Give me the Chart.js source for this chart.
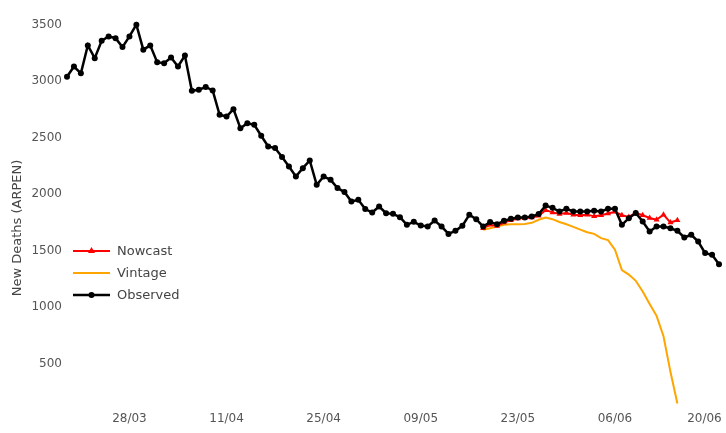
<!DOCTYPE html>
<html>
<head>
<meta charset="utf-8">
<script src="https://cdn.jsdelivr.net/npm/chart.js@4.4.1/dist/chart.umd.min.js"></script>
<style>
  html, body { margin: 0; padding: 0; background: #ffffff; }
  #wrap { width: 726px; height: 433px; }
</style>
</head>
<body>
<div id="wrap"><canvas id="chart" width="726" height="433"></canvas></div>
<script>
// Daily categories, 19/03 to 21/06
const monthSpans = [["03", 19, 31], ["04", 1, 30], ["05", 1, 31], ["06", 1, 21]];
const dates = [];
for (const [m, from, to] of monthSpans) {
  for (let d = from; d <= to; d++) dates.push(String(d).padStart(2, "0") + "/" + m);
}

// Dates that carry a label on the x axis
const tickLabels = ["28/03", "11/04", "25/04", "09/05", "23/05", "06/06", "20/06"];
// Values labelled on the y axis
const yTicks = [500, 1000, 1500, 2000, 2500, 3000, 3500];

// Observed daily deaths (ARPEN)
const observed = [
  3040, 3130, 3070, 3317, 3204, 3358, 3396, 3381, 3302, 3396,
  3500, 3279, 3317, 3168, 3159, 3209, 3130, 3227, 2916, 2925,
  2949, 2919, 2703, 2688, 2753, 2585, 2629, 2615, 2518, 2423,
  2409, 2329, 2246, 2158, 2231, 2299, 2084, 2158, 2128, 2055,
  2020, 1936, 1951, 1869, 1839, 1892, 1833, 1827, 1798, 1730,
  1757, 1724, 1715, 1768, 1715, 1650, 1677, 1721, 1819, 1780,
  1715, 1754, 1736, 1765, 1783, 1795, 1795, 1804, 1825, 1900,
  1880, 1848, 1872, 1848, 1848, 1848, 1854, 1848, 1872, 1872,
  1730, 1789, 1834, 1760, 1671, 1715, 1715, 1700, 1677, 1618,
  1642, 1582, 1480, 1465, 1382
];

// Nowcast and vintage both run from 18/05 to 15/06
const estimateStart = "18/05";
const nowcast = [
  1700, 1730, 1720, 1750, 1770, 1785, 1790, 1795, 1810, 1860,
  1840, 1825, 1835, 1820, 1815, 1820, 1805, 1815, 1830, 1845,
  1815, 1800, 1835, 1815, 1790, 1775, 1820, 1750, 1770
];
const vintage = [
  1686, 1700, 1715, 1730, 1736, 1736, 1738, 1748, 1775, 1795,
  1780, 1755, 1735, 1712, 1688, 1665, 1650, 1612, 1595, 1510,
  1330, 1290, 1235, 1140, 1030, 925, 745, 430, 150
];

// Align a partial series with the full date axis
function alignToDates(values, startDate) {
  const offset = dates.indexOf(startDate);
  return dates.map((_, i) => {
    const k = i - offset;
    return k >= 0 && k < values.length ? values[k] : null;
  });
}

const FONT = "'DejaVu Sans', Verdana, sans-serif";
const TEXT = "#555555";

// Legend drawn inside the plot area, to the left
const innerLegend = {
  id: "innerLegend",
  afterDraw(chart) {
    const { ctx, chartArea } = chart;
    const items = [
      { label: "Nowcast", color: "#ff0000", marker: "triangle", width: 2 },
      { label: "Vintage", color: "#ffa500", marker: null, width: 2 },
      { label: "Observed", color: "#000000", marker: "circle", width: 2.5 }
    ];
    const x0 = chartArea.left + 6, x1 = chartArea.left + 43, tx = chartArea.left + 50;
    let y = chartArea.top + 241;
    ctx.save();
    ctx.font = "13px " + FONT;
    ctx.textBaseline = "middle";
    ctx.textAlign = "left";
    for (const it of items) {
      ctx.strokeStyle = it.color;
      ctx.lineWidth = it.width;
      ctx.beginPath();
      ctx.moveTo(x0, y);
      ctx.lineTo(x1, y);
      ctx.stroke();
      const mx = (x0 + x1) / 2;
      ctx.fillStyle = it.color;
      if (it.marker === "circle") {
        ctx.beginPath();
        ctx.arc(mx, y, 3, 0, Math.PI * 2);
        ctx.fill();
      } else if (it.marker === "triangle") {
        ctx.beginPath();
        ctx.moveTo(mx, y - 4);
        ctx.lineTo(mx + 3.5, y + 2);
        ctx.lineTo(mx - 3.5, y + 2);
        ctx.closePath();
        ctx.fill();
      }
      ctx.fillStyle = "#444444";
      ctx.fillText(it.label, tx, y + 1);
      y += 22;
    }
    ctx.restore();
  }
};

// Rotated y-axis title
const yTitle = {
  id: "yTitle",
  afterDraw(chart) {
    const ctx = chart.ctx;
    ctx.save();
    ctx.translate(18, 228);
    ctx.rotate(-Math.PI / 2);
    ctx.font = "13px " + FONT;
    ctx.fillStyle = "#444444";
    ctx.textAlign = "center";
    ctx.textBaseline = "middle";
    ctx.fillText("New Deaths (ARPEN)", 0, 0);
    ctx.restore();
  }
};

new Chart(document.getElementById("chart"), {
  type: "line",
  data: {
    labels: dates,
    datasets: [
      {
        label: "Observed",
        data: observed,
        borderColor: "#000000",
        backgroundColor: "#000000",
        borderWidth: 2.5,
        pointRadius: 3,
        pointBorderWidth: 0,
        pointBackgroundColor: "#000000",
        tension: 0,
        order: 0
      },
      {
        label: "Nowcast",
        data: alignToDates(nowcast, estimateStart),
        borderColor: "#ff0000",
        backgroundColor: "#ff0000",
        borderWidth: 2,
        pointStyle: "triangle",
        pointRadius: 3.5,
        pointBorderWidth: 0,
        pointBackgroundColor: "#ff0000",
        tension: 0,
        order: 1
      },
      {
        label: "Vintage",
        data: alignToDates(vintage, estimateStart),
        borderColor: "#ffa500",
        backgroundColor: "#ffa500",
        borderWidth: 2,
        pointRadius: 0,
        tension: 0,
        order: 2
      }
    ]
  },
  options: {
    responsive: false,
    animation: false,
    events: [],
    layout: { padding: { left: 0, right: 7, top: 10, bottom: 0 } },
    plugins: { legend: { display: false }, tooltip: { enabled: false } },
    scales: {
      x: {
        type: "category",
        offset: false,
        grid: { display: false, drawTicks: false },
        border: { display: false },
        ticks: {
          autoSkip: false,
          maxRotation: 0,
          minRotation: 0,
          padding: 4,
          color: TEXT,
          font: { family: FONT, size: 12 },
          callback: (v, i) => {
            const d = dates[i];
            if (!tickLabels.includes(d)) return "";
            return d === "20/06" ? d + "    " : d;
          }
        },
        afterFit: (s) => {
          s.height = 25;
          s.paddingLeft = 0;
          s.paddingRight = 0;
        }
      },
      y: {
        min: 110,
        max: 3630,
        grid: { display: false, drawTicks: false },
        border: { display: false },
        afterBuildTicks: (s) => {
          s.ticks = yTicks.map((v) => ({ value: v }));
        },
        ticks: {
          padding: 5,
          color: TEXT,
          font: { family: FONT, size: 12 },
          callback: (v) => String(v)
        },
        afterFit: (s) => {
          s.width = 67;
          s.paddingTop = 0;
          s.paddingBottom = 0;
        }
      }
    }
  },
  plugins: [innerLegend, yTitle]
});
</script>
</body>
</html>
